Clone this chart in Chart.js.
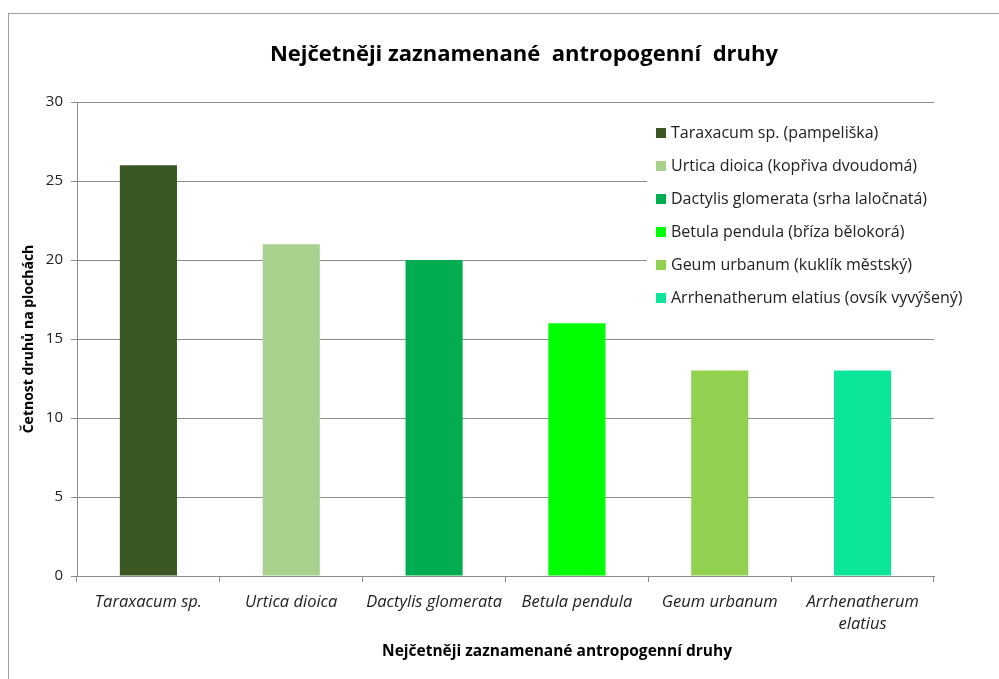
<!DOCTYPE html>
<html>
<head>
<meta charset="utf-8">
<script src="https://cdn.jsdelivr.net/npm/chart.js@4.4.0/dist/chart.umd.min.js"></script>
<style>
  html, body { margin: 0; padding: 0; background: #fff; }
  #wrap { width: 999px; height: 679px; }
</style>
</head>
<body>
<div id="wrap"><canvas id="myChart" width="999" height="679"></canvas></div>
<script>
const chartTitle = 'Nejčetněji zaznamenané  antropogenní  druhy'
const xTitle = 'Nejčetněji zaznamenané antropogenní druhy'
const yTitle = 'Četnost druhů na plochách'
const categories = ['Taraxacum sp.', 'Urtica dioica', 'Dactylis glomerata', 'Betula pendula', 'Geum urbanum', ['Arrhenatherum', 'elatius']]
const counts = [26, 21, 20, 16, 13, 13]
const legendNames = [
    'Taraxacum sp. (pampeliška)',
    'Urtica dioica (kopřiva dvoudomá)',
    'Dactylis glomerata (srha laločnatá)',
    'Betula pendula (bříza bělokorá)',
    'Geum urbanum (kuklík městský)',
    'Arrhenatherum elatius (ovsík vyvýšený)'
]
const barColors = ['#3a5724', '#a9d18e', '#00ad50', '#00ff00', '#92d050', '#0ce698']
const yTicks = [0, 5, 10, 15, 20, 25, 30]

const gridGrey = '#8c8c8c'
const font = '"Open Sans", "DejaVu Sans", sans-serif'

// frame, titles and the legend that sits over the plot
const overlay = {
    id: 'overlay',
    beforeDraw(chart) {
        const ctx = chart.ctx
        ctx.save()
        ctx.fillStyle = '#fff'
        ctx.fillRect(0, 0, chart.width, chart.height)
        ctx.strokeStyle = '#a0a0a0'
        ctx.lineWidth = 1
        ctx.strokeRect(8.5, 13.5, 1010, 700)
        ctx.restore()
    },
    afterDraw(chart) {
        const ctx = chart.ctx
        ctx.save()
        ctx.fillStyle = '#000'
        ctx.textAlign = 'center'
        ctx.textBaseline = 'middle'
        ctx.font = 'bold 22px ' + font
        ctx.fillText(chartTitle, 524, 55)
        ctx.font = 'bold 15.5px ' + font
        ctx.fillText(xTitle, 557, 652)

        ctx.fillStyle = '#fff'
        ctx.fillRect(647, 112, 345, 200)
        ctx.font = '16px ' + font
        ctx.textAlign = 'left'
        for (let i = 0; i < legendNames.length; i++) {
            const y = 133 + i * 33
            ctx.fillStyle = barColors[i]
            ctx.fillRect(656, y - 5, 10, 10)
            ctx.fillStyle = '#222'
            ctx.fillText(legendNames[i], 671, y)
        }
        ctx.restore()
    }
}

const data = {
    labels: categories,
    datasets: [{
        label: xTitle,
        data: counts,
        backgroundColor: barColors,
        borderWidth: 0,
        barPercentage: 0.4,
        categoryPercentage: 1
    }]
}

const config = {
    type: 'bar',
    data: data,
    options: {
        responsive: false,
        animation: false,
        layout: { padding: { top: 102, right: 65, bottom: 0, left: 0 } },
        plugins: {
            legend: { display: false },
            title: { display: false },
            tooltip: { enabled: false }
        },
        scales: {
            x: {
                afterFit(scale) { scale.height = 103 },
                grid: { offset: true, drawOnChartArea: false, color: gridGrey, tickLength: 6 },
                border: { color: gridGrey },
                ticks: {
                    color: '#222',
                    padding: 10,
                    maxRotation: 0,
                    autoSkip: false,
                    font: { family: font, size: 16.5, style: 'italic', lineHeight: 1.3 }
                }
            },
            y: {
                min: 0,
                max: 30,
                afterFit(scale) { scale.width = 77 },
                afterBuildTicks(scale) { scale.ticks = yTicks.map(v => ({ value: v })) },
                grid: { color: gridGrey, tickLength: 6 },
                border: { color: gridGrey },
                ticks: {
                    color: '#222',
                    padding: 8,
                    font: { family: font, size: 15 }
                },
                title: {
                    display: true,
                    text: yTitle,
                    color: '#000',
                    font: { family: font, size: 14, weight: 'bold' },
                    padding: { top: 21, bottom: 0 }
                }
            }
        }
    },
    plugins: [overlay]
}

const ctx = document.getElementById('myChart').getContext('2d')
new Chart(ctx, config)
</script>
</body>
</html>
